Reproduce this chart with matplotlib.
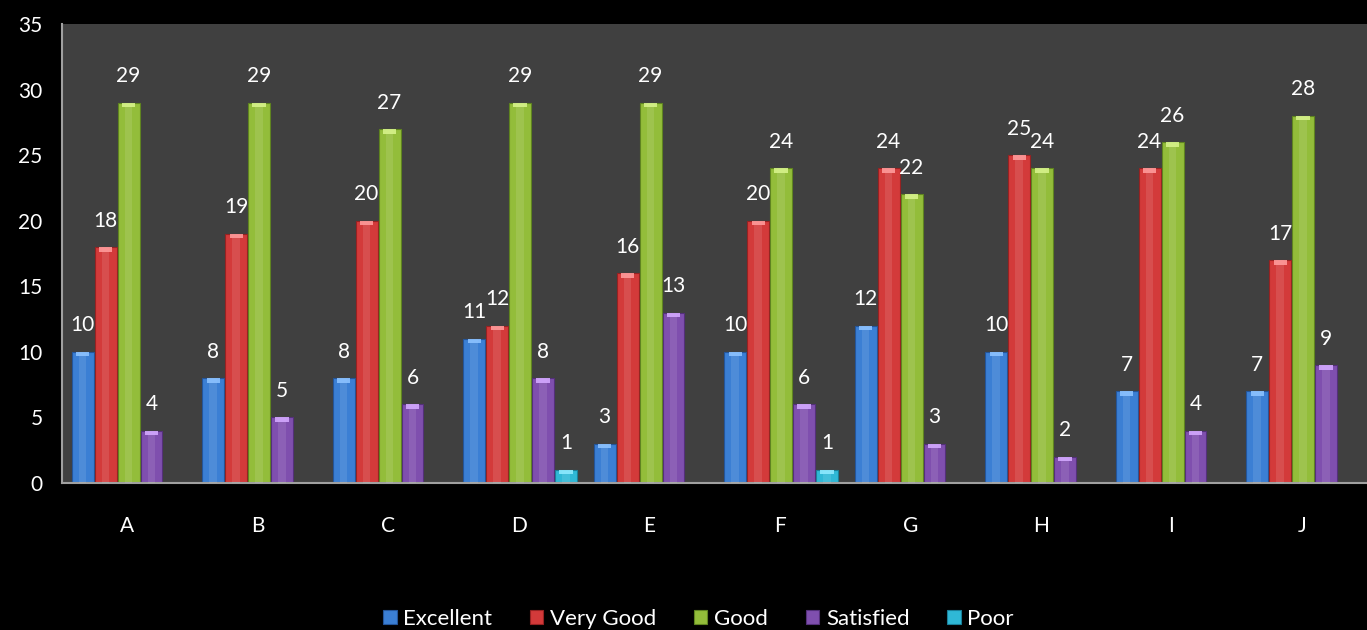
import matplotlib
matplotlib.use("Agg")
import matplotlib.pyplot as plt
import numpy as np

categories = ["A", "B", "C", "D", "E", "F", "G", "H", "I", "J"]
series_names = ["Excellent", "Very Good", "Good", "Satisfied", "Poor"]
excellent = [10, 8, 8, 11, 3, 10, 12, 10, 7, 7]
very_good = [18, 19, 20, 12, 16, 20, 24, 25, 24, 17]
good = [29, 29, 27, 29, 29, 24, 22, 24, 26, 28]
satisfied = [4, 5, 6, 8, 13, 6, 3, 2, 4, 9]
poor = [0, 0, 0, 1, 0, 1, 0, 0, 0, 0]
yticks = [0, 5, 10, 15, 20, 25, 30, 35]

series = [excellent, very_good, good, satisfied, poor]
colors = ["#3b7fd4", "#d33a3a", "#93bd3a", "#7f4fae", "#2fb8d6"]
dark = ["#24559a", "#962222", "#5f8420", "#54307a", "#1a7f98"]
light = ["#8cc2ff", "#ff9a9a", "#d6f28a", "#d3a8ff", "#8eeaff"]

plt.rcParams['font.family'] = ['Lato', 'DejaVu Sans']
fig = plt.figure(figsize=(13.67, 6.3), dpi=100, facecolor="black")
ax = fig.add_axes([62/1367, 1-483/630, 1-62/1367, (483-24)/630])
ax.set_facecolor("#404040")

x = np.arange(len(categories))
slot = 0.176
w = 0.168
for i, (vals, name) in enumerate(zip(series, series_names)):
    pos = x + (i - 2) * slot + 0.01
    ax.bar(pos, vals, width=w, color=colors[i], edgecolor=dark[i], linewidth=0.8,
           label=name, zorder=2)
    ax.bar(pos, vals, width=w * 0.35, color="white", alpha=0.10, linewidth=0, zorder=3)
    for p, v in zip(pos, vals):
        if v > 0:
            ax.bar(p, min(0.35, v), bottom=v - min(0.35, v), width=w * 0.6,
                   color=light[i], linewidth=0, zorder=4, alpha=0.9)
            ax.annotate(str(v), (p, v), xytext=(0, 19), textcoords="offset points",
                        ha="center", va="center", color="white", fontsize=15)

ax.set_ylim(0, 35)
ax.set_xlim(-0.5, len(categories) - 0.5)
ax.set_yticks(yticks)
ax.set_yticklabels([str(t) for t in yticks])
ax.set_xticks(x)
ax.set_xticklabels(categories)
ax.tick_params(axis="both", colors="white", labelsize=15, length=0)
ax.tick_params(axis="x", pad=24)
ax.tick_params(axis="y", pad=14)
for s in ["top", "right"]:
    ax.spines[s].set_visible(False)
for s in ["left", "bottom"]:
    ax.spines[s].set_color("#a0a0a0")
    ax.spines[s].set_linewidth(1.5)

leg = fig.legend(loc="center", bbox_to_anchor=(0.511, 1 - 619/630), ncol=5, frameon=False,
                 fontsize=16, handlelength=0.6, handleheight=0.6, handletextpad=0.3,
                 columnspacing=1.7, labelcolor="white")
fig.savefig("out.png", dpi=100, facecolor="black")
